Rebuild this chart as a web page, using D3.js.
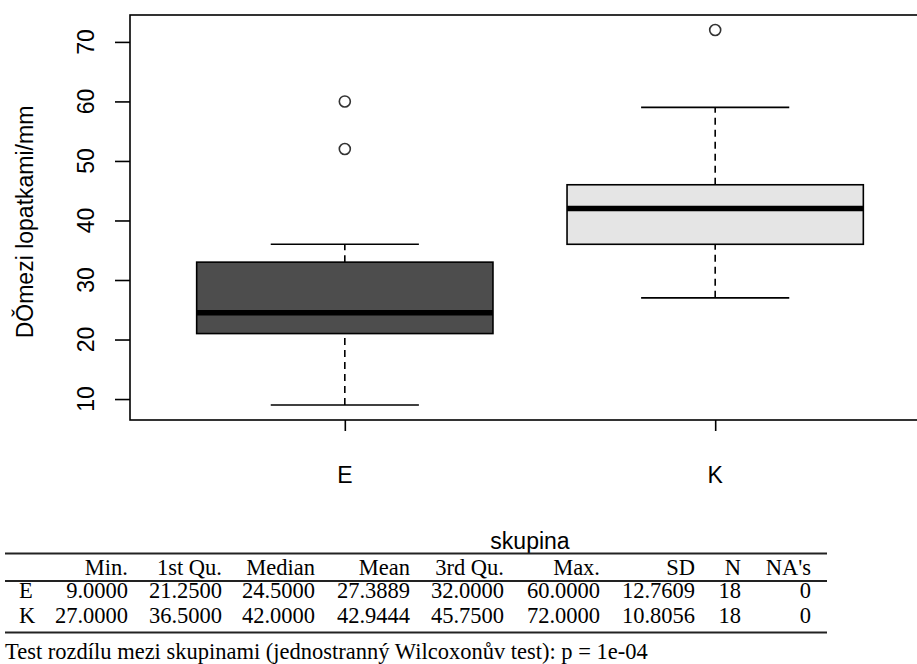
<!DOCTYPE html>
<meta charset="utf-8">
<head>
	<title>skupina boxplot</title>
	<script type="text/javascript" src="https://cdn.jsdelivr.net/npm/d3@7/dist/d3.min.js"></script>
	<style>
		body { margin: 0; background: #fff; }
		svg text.sans { font-family: "Liberation Sans", Arial, sans-serif; }
		svg text.serif { font-family: "Liberation Serif", "DejaVu Serif", serif; font-size: 22.5px; }
	</style>
</head>

<body>
	<div id="chart"></div>

<script>
	// boxplot stats per group (R boxplot: hinges, whiskers, outliers)
	var groups = ["E", "K"];
	var whiskerLow = [9, 27];
	var hingeLow = [21, 36];
	var medians = [24.5, 42];
	var hingeHigh = [33, 46];
	var whiskerHigh = [36, 59];
	var outliers = [[52, 60], [72]];
	var boxFills = ["#4d4d4d", "#e5e5e5"];
	var yTicks = [10, 20, 30, 40, 50, 60, 70];

	// summary table
	var tableHeads = ["Min.", "1st Qu.", "Median", "Mean", "3rd Qu.", "Max.", "SD", "N", "NA's"];
	var tableRows = [
		["E", "9.0000", "21.2500", "24.5000", "27.3889", "32.0000", "60.0000", "12.7609", "18", "0"],
		["K", "27.0000", "36.5000", "42.0000", "42.9444", "45.7500", "72.0000", "10.8056", "18", "0"]
	];
	var footnote = "Test rozdílu mezi skupinami (jednostranný Wilcoxonův test): p = 1e-04";

	var W = 917, H = 664;
	var plot = {left: 130, top: 15, right: 930, bottom: 420};

	var svg = d3.select("#chart").append("svg")
		.attr("width", W)
		.attr("height", H);

	var x = d3.scaleLinear().domain([0.42, 2.58]).range([plot.left, plot.right]);
	var y = d3.scaleLinear().domain([6.48, 74.52]).range([plot.bottom, plot.top]);

	var g = svg.append("g");

	groups.forEach(function(name, i) {
		var cx = x(i + 1);
		var bw = x(1.4) - x(1);   // half box width
		var sw = x(1.2) - x(1);   // half staple width

		// dashed whiskers
		g.append("line")
			.attr("x1", cx).attr("x2", cx)
			.attr("y1", y(whiskerLow[i])).attr("y2", y(hingeLow[i]))
			.attr("stroke", "#000").attr("stroke-width", 1.6)
			.attr("stroke-dasharray", "7,5");
		g.append("line")
			.attr("x1", cx).attr("x2", cx)
			.attr("y1", y(hingeHigh[i])).attr("y2", y(whiskerHigh[i]))
			.attr("stroke", "#000").attr("stroke-width", 1.6)
			.attr("stroke-dasharray", "7,5");

		// staples
		[whiskerLow[i], whiskerHigh[i]].forEach(function(v) {
			g.append("line")
				.attr("x1", cx - sw).attr("x2", cx + sw)
				.attr("y1", y(v)).attr("y2", y(v))
				.attr("stroke", "#000").attr("stroke-width", 1.6);
		});

		// box
		g.append("rect")
			.attr("x", cx - bw)
			.attr("y", y(hingeHigh[i]))
			.attr("width", 2 * bw)
			.attr("height", y(hingeLow[i]) - y(hingeHigh[i]))
			.attr("fill", boxFills[i])
			.attr("stroke", "#000").attr("stroke-width", 1.6);

		// median
		g.append("line")
			.attr("x1", cx - bw).attr("x2", cx + bw)
			.attr("y1", y(medians[i])).attr("y2", y(medians[i]))
			.attr("stroke", "#000").attr("stroke-width", 5.5);

		// outliers
		g.selectAll(null)
			.data(outliers[i])
			.enter().append("circle")
			.attr("cx", cx)
			.attr("cy", function(d) { return y(d); })
			.attr("r", 5.5)
			.attr("fill", "none")
			.attr("stroke", "#333").attr("stroke-width", 1.6);
	});

	// frame
	svg.append("rect")
		.attr("x", plot.left).attr("y", plot.top)
		.attr("width", plot.right - plot.left)
		.attr("height", plot.bottom - plot.top)
		.attr("fill", "none")
		.attr("stroke", "#000").attr("stroke-width", 1.6);

	// y axis
	var yAxis = svg.append("g")
		.attr("transform", "translate(" + (plot.left - 15) + ",0)")
		.call(d3.axisRight(y).tickValues(yTicks).tickSize(15).tickFormat(""));
	yAxis.select(".domain").remove();
	yAxis.selectAll("line").attr("stroke", "#000").attr("stroke-width", 1.6);

	svg.selectAll(".ytick")
		.data(yTicks)
		.enter().append("text")
		.attr("class", "sans ytick")
		.attr("transform", function(d) { return "translate(94," + y(d) + ") rotate(-90)"; })
		.attr("text-anchor", "middle")
		.style("font-size", "23px")
		.text(function(d) { return d; });

	// x axis
	var xAxis = svg.append("g")
		.attr("transform", "translate(0," + plot.bottom + ")")
		.call(d3.axisBottom(x).tickValues([1, 2]).tickSize(11).tickFormat(""));
	xAxis.select(".domain").remove();
	xAxis.selectAll("line").attr("stroke", "#000").attr("stroke-width", 1.6);

	svg.selectAll(".xtick")
		.data(groups)
		.enter().append("text")
		.attr("class", "sans xtick")
		.attr("x", function(d, i) { return x(i + 1); })
		.attr("y", 483)
		.attr("text-anchor", "middle")
		.style("font-size", "23px")
		.text(function(d) { return d; });

	svg.append("text")
		.attr("class", "sans")
		.attr("x", x(1.5))
		.attr("y", 549)
		.attr("text-anchor", "middle")
		.style("font-size", "23px")
		.text("skupina");

	svg.append("text")
		.attr("class", "sans")
		.attr("transform", "translate(33,222) rotate(-90)")
		.attr("text-anchor", "middle")
		.style("font-size", "23px")
		.text("DǑmezi lopatkami/mm");

	// table
	var colRight = [128, 222, 315, 410, 504, 600, 695, 741, 811];
	var tab = svg.append("g");

	[553.5, 581, 632.5].forEach(function(ry) {
		tab.append("line")
			.attr("x1", 5).attr("x2", 827)
			.attr("y1", ry).attr("y2", ry)
			.attr("stroke", "#222").attr("stroke-width", 2);
	});

	tab.selectAll(".head")
		.data(tableHeads)
		.enter().append("text")
		.attr("class", "serif head")
		.attr("x", function(d, i) { return colRight[i]; })
		.attr("y", 575)
		.attr("text-anchor", "end")
		.text(function(d) { return d; });

	tableRows.forEach(function(row, r) {
		var by = 598 + r * 25;
		tab.append("text")
			.attr("class", "serif")
			.attr("x", 19)
			.attr("y", by)
			.text(row[0]);
		tab.selectAll(null)
			.data(row.slice(1))
			.enter().append("text")
			.attr("class", "serif")
			.attr("x", function(d, i) { return colRight[i]; })
			.attr("y", by)
			.attr("text-anchor", "end")
			.text(function(d) { return d; });
	});

	svg.append("text")
		.attr("class", "serif")
		.attr("x", 5)
		.attr("y", 659)
		.text(footnote);
</script>
</body>
